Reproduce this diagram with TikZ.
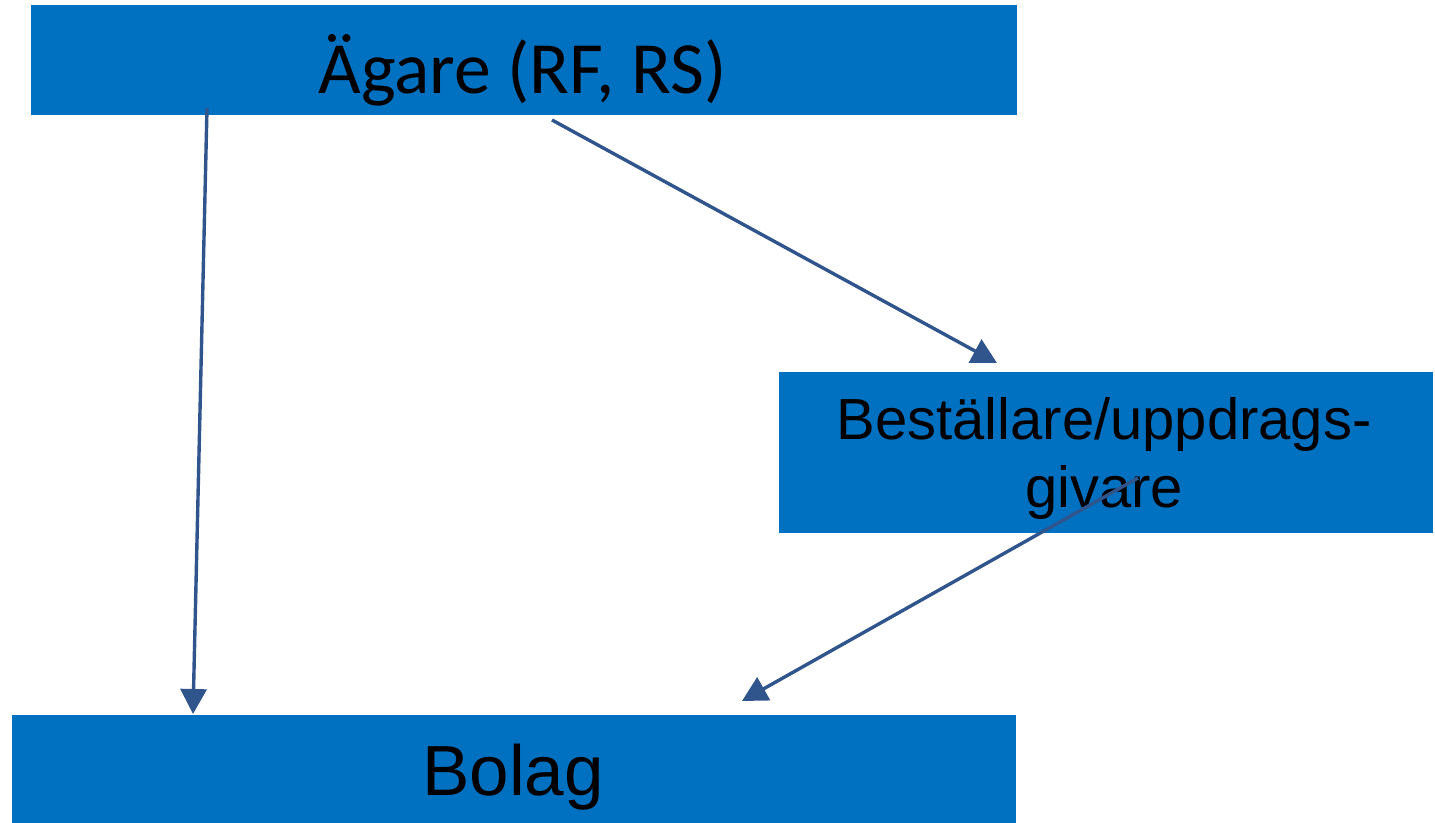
\documentclass[tikz,border=0pt]{standalone}
\usepackage{fontspec}
\setmainfont{Liberation Sans}
\newfontfamily\calfont{Carlito}
\usetikzlibrary{arrows.meta}
\definecolor{boxblue}{HTML}{0070C0}
\definecolor{arrowblue}{RGB}{47,85,140}
\begin{document}
\begin{tikzpicture}[x=0.5pt,y=-0.5pt,
  box/.style={fill=boxblue,draw=none,inner sep=0pt},
  lbl/.style={anchor=base,inner sep=0pt,text=black},
  conn/.style={draw=arrowblue,line width=1.7pt,-{Triangle[length=12.5pt,width=13pt]}}]
\useasboundingbox (0,0) rectangle (1435,823);
\node[box,minimum width=493pt,minimum height=55pt] (owner) at (524,60) {};
\node[box,minimum width=327pt,minimum height=80.5pt] (client) at (1106,452.5) {};
\node[box,minimum width=502pt,minimum height=54pt] (company) at (514,769) {};
\node[lbl,font=\calfont\fontsize{36.8}{40}\selectfont] (ownerT) at (522.5,94) {Ägare (RF, RS)};
\node[lbl,font=\fontsize{29}{34}\selectfont] (clientT1) at (1104,440) {Beställare/uppdrags-};
\node[lbl,font=\fontsize{29}{34}\selectfont] (clientT2) at (1104,508) {givare};
\node[lbl,font=\fontsize{35.5}{40}\selectfont] (companyT) at (513,795) {Bolag};
\coordinate (a1s) at (207,108);
\coordinate (a1e) at (193,714);
\coordinate (a2s) at (552,120);
\coordinate (a2e) at (997,363);
\coordinate (a3s) at (1138,478);
\coordinate (a3e) at (742,701);
\draw[conn] (a1s) -- (a1e);
\draw[conn] (a2s) -- (a2e);
\draw[conn] (a3s) -- (a3e);
\end{tikzpicture}
\end{document}
